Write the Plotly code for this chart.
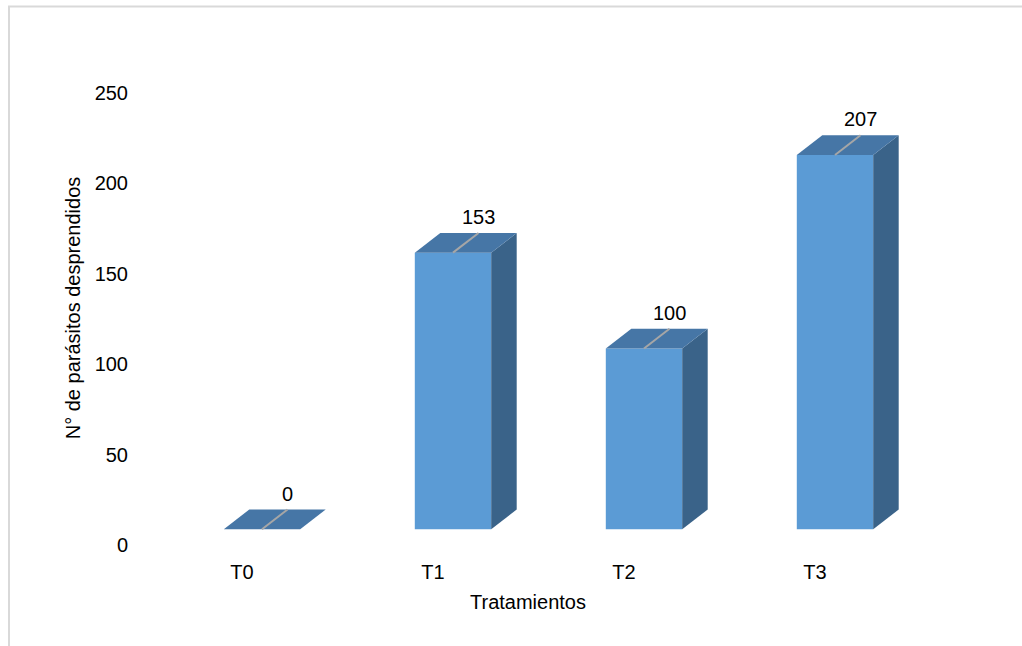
import plotly.graph_objects as go

categories = ["T0", "T1", "T2", "T3"]
values = [0, 153, 100, 207]
y_ticks = [0, 50, 100, 150, 200, 250]

W, H = 1022, 646
L, R, T, B = 136, 102, 61, 91
pw, ph = W - L - R, H - T - B

# axis scale (pixels per unit)
px_per_x = 191.0
px_per_y = 1.808
x0_px = 262.0      # pixel of category 0 front centre
y0_px = 545.0      # pixel of value 0 on the tick scale

x_lo = (L - x0_px) / px_per_x
x_hi = x_lo + pw / px_per_x
y_lo = (y0_px - (T + ph)) / px_per_y
y_hi = (y0_px - T) / px_per_y

base = 8.7          # front face floor in axis units
half_w = 0.2        # half width of front face (category units)
dx = 25.5 / px_per_x
dy = 19.7 / px_per_y

front = "#5B9BD5"
top_c = "#4676A6"
side_c = "#3A6389"
FS = 20

xs = list(range(len(categories)))
fig = go.Figure()

fig.add_trace(go.Bar(x=xs, y=values, base=base, width=2 * half_w,
                     marker=dict(color=front, line=dict(width=0)),
                     hoverinfo="skip"))

for i, v in zip(xs, values):
    top = base + v
    # side face
    fig.add_trace(go.Scatter(
        x=[i + half_w, i + half_w, i + half_w + dx, i + half_w + dx, i + half_w],
        y=[base, top, top + dy, base + dy, base],
        fill="toself", fillcolor=side_c, mode="lines",
        line=dict(width=0, color=side_c), hoverinfo="skip", cliponaxis=False))
    # top face
    fig.add_trace(go.Scatter(
        x=[i - half_w, i + half_w, i + half_w + dx, i - half_w + dx, i - half_w],
        y=[top, top, top + dy, top + dy, top],
        fill="toself", fillcolor=top_c, mode="lines",
        line=dict(width=0, color=top_c), hoverinfo="skip", cliponaxis=False))
    # leader line
    fig.add_trace(go.Scatter(
        x=[i, i + dx], y=[top, top + dy], mode="lines",
        line=dict(width=2, color="#A6A6A6"), hoverinfo="skip"))
    # data label
    fig.add_annotation(x=i + dx, y=top + dy, text=str(v), showarrow=False,
                       xanchor="center", yanchor="middle", yshift=16,
                       font=dict(size=FS, color="#000000", family="Liberation Sans"))

def paper_x(px):
    return (px - L) / pw

def paper_y(py):
    return 1 - (py - T) / ph

fig.add_shape(type="rect", xref="paper", yref="paper",
              x0=paper_x(9), x1=paper_x(1040), y0=paper_y(660), y1=paper_y(6.5),
              line=dict(color="#D9D9D9", width=2), fillcolor="rgba(0,0,0,0)",
              layer="below")

fig.update_layout(
    width=W, height=H, autosize=False,
    margin=dict(l=L, r=R, t=T, b=B),
    paper_bgcolor="white", plot_bgcolor="white",
    showlegend=False,
    font=dict(family="Liberation Sans", size=FS, color="#000000"),
    xaxis=dict(range=[x_lo, x_hi], tickvals=[i - 0.105 for i in xs],
               ticktext=categories, showgrid=False, zeroline=False,
               showline=False, ticks="", ticklabelstandoff=3,
               title=dict(text="Tratamientos", standoff=12,
                          font=dict(size=FS))),
    yaxis=dict(range=[y_lo, y_hi], tickvals=y_ticks, showgrid=False,
               zeroline=False, showline=False, ticks="", ticklabelstandoff=7,
               title=dict(text="N° de parásitos desprendidos", standoff=8,
                          font=dict(size=FS))),
)

fig.write_html("out.html")
